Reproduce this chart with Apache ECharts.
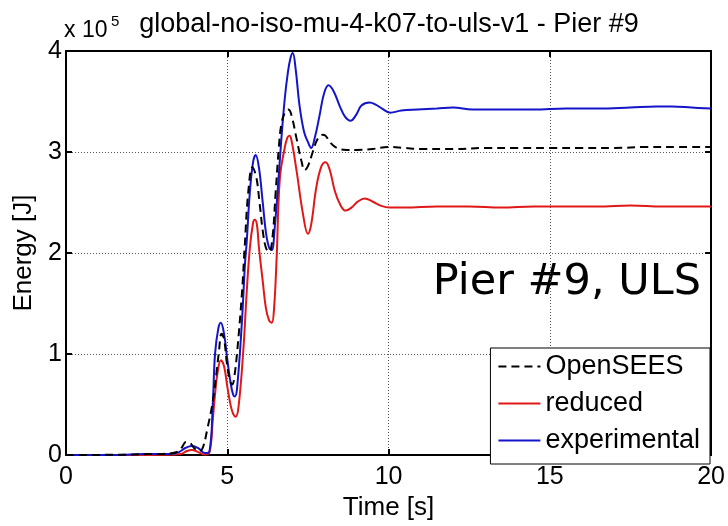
<!DOCTYPE html>
<html>
<head>
<meta charset="utf-8">
<script src="https://cdn.jsdelivr.net/npm/echarts@6/dist/echarts.min.js"></script>
<style>
  html, body { margin: 0; padding: 0; background: #fff; }
  #chart { width: 728px; height: 526px; }
</style>
</head>
<body>
<div id="chart"></div>
<script>
// Energy histories for Pier #9 (values in units of 1e5 J)
const SCALE = 1e5;

const openseesTime = [
  0, 2.0, 2.5, 3.0, 3.3, 3.5, 3.6, 3.72, 3.85, 4.0,
  4.15, 4.25, 4.37, 4.55, 4.67, 4.74, 4.82, 4.9, 4.98, 5.08,
  5.16, 5.22, 5.3, 5.45, 5.54, 5.65, 5.78, 5.9, 6.0, 6.1,
  6.2, 6.3, 6.4, 6.5, 6.6, 6.68, 6.8, 6.9, 7.0, 7.15,
  7.3, 7.4, 7.5, 7.65, 7.8, 7.95, 8.05, 8.2, 8.4, 8.7,
  9.0, 9.5, 10.0, 10.5, 11.0, 12.0, 13.0, 14.0, 15.0, 16.0,
  17.0, 18.0, 19.0, 20.0
];
const openseesEnergy = [
  0, 0.005, 0.01, 0.012, 0.02, 0.04, 0.08, 0.13, 0.12, 0.06,
  0.04, 0.08, 0.24, 0.53, 0.83, 1.02, 1.2, 1.15, 0.93, 0.74,
  0.7, 0.78, 1.0, 1.58, 2.06, 2.6, 2.85, 2.75, 2.5, 2.22,
  2.05, 2.01, 2.15, 2.6, 3.05, 3.28, 3.4, 3.42, 3.35, 3.13,
  2.91, 2.82, 2.86, 3.0, 3.13, 3.17, 3.16, 3.09, 3.04, 3.02,
  3.02, 3.03, 3.05, 3.04, 3.03, 3.03, 3.04, 3.04, 3.04, 3.04,
  3.04, 3.05, 3.05, 3.05
];

const reducedTime = [
  0, 2.0, 3.0, 3.55, 3.75, 3.9, 4.1, 4.3, 4.45, 4.55,
  4.62, 4.7, 4.8, 4.9, 5.0, 5.1, 5.18, 5.26, 5.35, 5.5,
  5.6, 5.7, 5.8, 5.85, 5.92, 5.98, 6.1, 6.2, 6.3, 6.38,
  6.45, 6.53, 6.63, 6.78, 6.86, 6.93, 7.0, 7.15, 7.35, 7.5,
  7.6, 7.76, 7.92, 8.05, 8.18, 8.33, 8.5, 8.67, 8.85, 9.05,
  9.26, 9.5, 9.75, 10.03, 10.5, 11.5, 12.5, 13.5, 14.5, 15.5,
  16.5, 17.5, 18.5, 19.3, 20
];
const reducedEnergy = [
  0, 0, 0.003, 0.01, 0.04, 0.05, 0.03, 0.005, 0.03, 0.35,
  0.6, 0.82, 0.94, 0.88, 0.68, 0.5, 0.41, 0.38, 0.48, 1.05,
  1.6, 2.05, 2.3, 2.33, 2.28, 2.06, 1.72, 1.45, 1.33, 1.31,
  1.45, 1.95, 2.74, 3.04, 3.14, 3.16, 3.1, 2.81, 2.38, 2.19,
  2.28, 2.65, 2.86, 2.9, 2.82, 2.62, 2.48, 2.42, 2.45, 2.51,
  2.54, 2.51, 2.47, 2.45, 2.45, 2.46, 2.46, 2.45, 2.46, 2.46,
  2.46, 2.47, 2.46, 2.46, 2.46
];

const experimentalTime = [
  0, 1.5, 2.0, 2.4, 2.8, 3.2, 3.5, 3.7, 3.9, 4.1,
  4.3, 4.45, 4.55, 4.62, 4.72, 4.8, 4.9, 5.0, 5.1, 5.18,
  5.23, 5.3, 5.45, 5.55, 5.6, 5.7, 5.8, 5.88, 5.98, 6.1,
  6.2, 6.3, 6.38, 6.47, 6.57, 6.67, 6.78, 6.88, 6.96, 7.03,
  7.12, 7.24, 7.38, 7.5, 7.6, 7.72, 7.86, 8.0, 8.14, 8.3,
  8.48, 8.65, 8.82, 9.0, 9.16, 9.41, 9.6, 9.8, 10.05, 10.4,
  10.9, 11.5, 12.0, 12.6, 13.5, 14.5, 15.5, 16.5, 17.5, 18.3,
  18.8, 19.4, 20
];
const experimentalEnergy = [
  0, 0, 0.005, 0.01, 0.012, 0.01, 0.03, 0.07, 0.09, 0.07,
  0.02, 0.04, 0.5, 1.0, 1.25, 1.31, 1.2, 0.95, 0.72, 0.6,
  0.58, 0.65, 1.3, 1.9, 2.1, 2.6, 2.9, 2.97, 2.85, 2.5,
  2.2, 2.05, 2.03, 2.25, 2.65, 3.1, 3.52, 3.79, 3.93, 3.98,
  3.82, 3.46, 3.2, 3.1, 3.04, 3.15, 3.36, 3.58, 3.66, 3.6,
  3.46, 3.35, 3.31, 3.37, 3.46, 3.49, 3.47, 3.43, 3.39, 3.41,
  3.42, 3.43, 3.44, 3.42, 3.42, 3.42, 3.43, 3.43, 3.44, 3.45,
  3.45, 3.44, 3.43
];

const timeTicks = [0, 5, 10, 15, 20];
const energyTicks = [0, 1, 2, 3, 4];

function pairs(ts, es) {
  return ts.map((t, i) => [t, es[i] * SCALE]);
}

const FONT = 'Liberation Sans, Arial, sans-serif';
const chart = echarts.init(document.getElementById('chart'), null, { renderer: 'canvas' });

const gridLine = { show: true, lineStyle: { color: '#555', width: 1, type: [1, 2] } };
const frameLine = { show: true, onZero: false, lineStyle: { color: '#000', width: 2 } };
const innerTick = { show: true, inside: true, length: 6, lineStyle: { color: '#000', width: 2 } };

chart.setOption({
  animation: false,
  backgroundColor: '#fff',
  grid: { left: 66, right: 16, top: 51, bottom: 64, containLabel: false },
  xAxis: [
    {
      type: 'value', position: 'bottom',
      min: timeTicks[0], max: timeTicks[timeTicks.length - 1], interval: 5,
      name: 'Time [s]', nameLocation: 'middle', nameGap: 34,
      nameTextStyle: { color: '#000', fontSize: 26, fontFamily: FONT },
      axisLine: frameLine, axisTick: innerTick,
      axisLabel: { color: '#000', fontSize: 25, fontFamily: FONT, margin: 10 },
      splitLine: gridLine
    },
    {
      type: 'value', position: 'top',
      min: timeTicks[0], max: timeTicks[timeTicks.length - 1], interval: 5,
      axisLine: frameLine, axisTick: innerTick,
      axisLabel: { show: false }, splitLine: { show: false }
    }
  ],
  yAxis: [
    {
      type: 'value', position: 'left',
      min: energyTicks[0] * SCALE, max: energyTicks[energyTicks.length - 1] * SCALE, interval: SCALE,
      name: 'Energy [J]', nameLocation: 'middle', nameGap: 29, nameRotate: 90,
      nameTextStyle: { color: '#000', fontSize: 26, fontFamily: FONT },
      axisLine: frameLine, axisTick: innerTick,
      axisLabel: {
        color: '#000', fontSize: 25, fontFamily: FONT, margin: 4,
        formatter: v => String(Math.round(v / SCALE))
      },
      splitLine: gridLine
    },
    {
      type: 'value', position: 'right',
      min: energyTicks[0] * SCALE, max: energyTicks[energyTicks.length - 1] * SCALE, interval: SCALE,
      axisLine: frameLine, axisTick: innerTick,
      axisLabel: { show: false }, splitLine: { show: false }
    }
  ],
  legend: {
    orient: 'vertical',
    right: 18, top: 348,
    backgroundColor: '#fff',
    borderColor: '#000', borderWidth: 1,
    padding: [5, 10, 10, 7],
    itemWidth: 42, itemHeight: 14, itemGap: 10,
    itemStyle: { opacity: 0, borderWidth: 0 },
    textStyle: { color: '#000', fontSize: 27, fontFamily: FONT },
    data: ['OpenSEES', 'reduced', 'experimental']
  },
  graphic: [
    {
      type: 'text', x: 389, y: 24.5,
      style: { text: 'global-no-iso-mu-4-k07-to-uls-v1 - Pier #9', fill: '#000',
               font: '27px ' + FONT, align: 'center', verticalAlign: 'middle' }
    },
    {
      type: 'text', x: 64, y: 31,
      style: { text: 'x 10', fill: '#000', font: '23px ' + FONT, align: 'left', verticalAlign: 'middle' }
    },
    {
      type: 'text', x: 111, y: 22,
      style: { text: '5', fill: '#000', font: '15px ' + FONT, align: 'left', verticalAlign: 'middle' }
    },
    {
      type: 'text', x: 701, y: 283,
      style: { text: 'Pier #9, ULS', fill: '#000', font: '43px DejaVu Sans, sans-serif',
               align: 'right', verticalAlign: 'middle' }
    }
  ],
  series: [
    {
      name: 'OpenSEES', type: 'line', xAxisIndex: 0, yAxisIndex: 0,
      data: pairs(openseesTime, openseesEnergy),
      showSymbol: false, symbol: 'none', smooth: 0.4,
      color: '#000',
      lineStyle: { color: '#000', width: 2, type: [8, 5] },
      z: 3
    },
    {
      name: 'reduced', type: 'line', xAxisIndex: 0, yAxisIndex: 0,
      data: pairs(reducedTime, reducedEnergy),
      showSymbol: false, symbol: 'none', smooth: 0.4,
      color: '#e01818',
      lineStyle: { color: '#e01818', width: 2 },
      z: 2
    },
    {
      name: 'experimental', type: 'line', xAxisIndex: 0, yAxisIndex: 0,
      data: pairs(experimentalTime, experimentalEnergy),
      showSymbol: false, symbol: 'none', smooth: 0.4,
      color: '#1414c8',
      lineStyle: { color: '#1414c8', width: 2 },
      z: 2
    }
  ]
});
</script>
</body>
</html>
